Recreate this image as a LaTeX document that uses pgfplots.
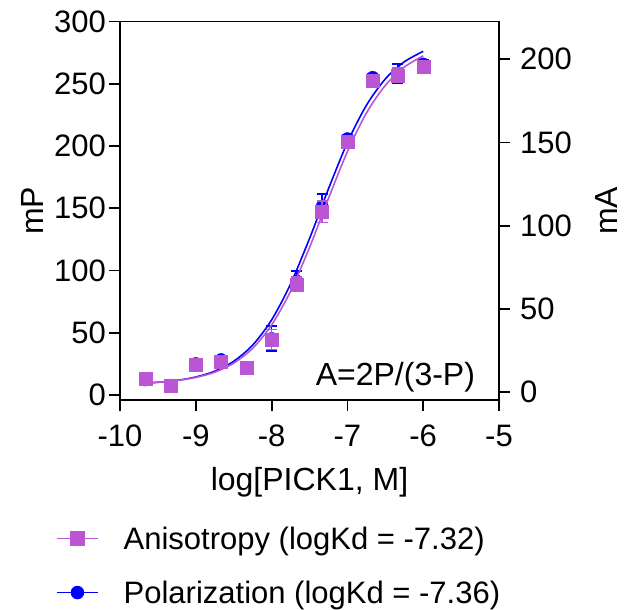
\documentclass[border=0pt]{standalone}
\usepackage{fontspec}
\setmainfont{Liberation Sans}
\usepackage{pgfplots}
\pgfplotsset{compat=1.18}
\definecolor{aniso}{RGB}{186,85,211}
\definecolor{polar}{RGB}{0,0,255}
\newcommand{\tickfont}{\fontsize{31}{36}\selectfont}
\newcommand{\labfont}{\fontsize{32}{38}\selectfont}
\newcommand{\legfont}{\fontsize{31}{37}\selectfont}
\begin{document}
\begin{tikzpicture}
\useasboundingbox (0,0) rectangle (635pt,610pt);
\pgfplotsset{common/.style={
  scale only axis, width=379pt, height=378.5pt,
  at={(120pt,210pt)}, anchor=south west,
  xmin=-10, xmax=-5,
  axis line style={line width=1.8pt, black},
  tick style={line width=1.8pt, black},
  major tick length=11pt, tick align=outside,
  ticklabel style={font=\tickfont},
  minor tick num=0,
}}
\begin{axis}[common,
  ymin=-4, ymax=300,
  xtick={-10,-9,-8,-7,-6,-5}, xticklabels={-10,-9,-8,-7,-6,-5},
  ytick={0,50,100,150,200,250,300}, yticklabels={0,50,100,150,200,250,300},
  xtick pos=bottom, ytick pos=left,
  yticklabel style={inner sep=3pt},
  xticklabel style={inner sep=3pt, yshift=-11pt},
  xlabel={log[PICK1, M]}, ylabel={mP},
  every axis x label/.style={at={(axis description cs:0.5,-0.238)}, anchor=base, font=\labfont},
  every axis y label/.style={at={(axis description cs:-0.2296,0.5)}, anchor=center, rotate=90, font=\labfont},
]
% Polarization fit (mP)
\addplot[polar, line width=1.6pt, smooth, forget plot] coordinates {
(-9.72,9.41) (-9.5,10.21) (-9.25,11.76) (-9,14.46) (-8.75,19.14) (-8.5,27.09)
(-8.25,40.10) (-8,60.30) (-7.75,89.10) (-7.5,125.64) (-7.36,147.95) (-7.25,165.56)
(-7,202.77) (-6.75,232.61) (-6.5,253.81) (-6.25,267.57) (-6,276.01)};
% Polarization data (mP)
\addplot[polar, only marks, mark=*, mark size=6pt, forget plot,
  error bars/.cd, y dir=both, y explicit,
  error bar style={line width=1.5pt, polar},
  error mark options={rotate=90, mark size=5.5pt, line width=1.5pt, polar}]
  table[x=x, y=y, y error=e] {
x y e
-9.667 12 2
-9.333 8 2
-9 25.4 2
-8.667 28.6 2
-8.333 22 2
-8 45.5 10
-7.667 91.7 8
-7.333 151.6 10
-7 206 3
-6.667 255.3 3
-6.333 258 8
-6 266 3
};
\node[anchor=base east, font=\labfont] at (axis cs:-5.27,8) {A=2P/(3-P)};
\end{axis}
\begin{axis}[common,
  ymin=-4.81, ymax=222.7,
  axis x line=none, axis y line*=right,
  ytick={0,50,100,150,200}, yticklabels={0,50,100,150,200},
  yticklabel style={inner sep=3pt, xshift=7pt},
  ylabel={mA},
  every axis y label/.style={at={(axis description cs:1.283,0.5)}, anchor=center, rotate=90, font=\labfont},
  legend style={at={(axis description cs:-0.1689,-0.334)}, anchor=north west,
    draw=none, fill=none, font=\legfont, row sep=30pt, inner sep=0pt,
    nodes={inner sep=0pt},
    /tikz/every odd column/.append style={column sep=25pt}},
  legend cell align=left,
  legend image code/.code={\draw[#1, mark repeat=2, mark phase=2] plot coordinates {(0pt,0pt)(20.5pt,0pt)(41pt,0pt)};},
]
% Anisotropy fit (mA)
\addplot[aniso, line width=1.6pt, smooth, forget plot] coordinates {
(-9.72,5.32) (-9.5,5.86) (-9.25,6.90) (-9,8.74) (-8.75,11.91) (-8.5,17.33)
(-8.25,26.26) (-8,40.28) (-7.75,60.57) (-7.5,86.84) (-7.32,108.0) (-7.25,116.33)
(-7,144.5) (-6.75,167.60) (-6.5,184.28) (-6.25,195.26) (-6,202.05)};
% Anisotropy data (mA)
\addplot[aniso, only marks, mark=square*, mark size=6.5pt, forget plot,
  error bars/.cd, y dir=both, y explicit,
  error bar style={line width=1.5pt, aniso},
  error mark options={rotate=90, mark size=5.5pt, line width=1.5pt, aniso}]
  table[x=x, y=y, y error=e] {
x y e
-9.667 8.2 1.5
-9.333 3.6 1.5
-9 16.6 1.5
-8.667 18.2 2
-8.333 14.8 1.5
-8 31.6 6
-7.667 64.7 4.4
-7.333 108.3 6.4
-7 150.3 2
-6.667 187.4 2
-6.333 190.4 4.4
-6 195.4 2
};
\addlegendimage{aniso, line width=1.5pt, mark=square*, mark size=6.5pt}
\addlegendentry{Anisotropy (logKd = -7.32)}
\addlegendimage{polar, line width=1.5pt, mark=*, mark size=6pt}
\addlegendentry{Polarization (logKd = -7.36)}
\end{axis}
\end{tikzpicture}
\end{document}
